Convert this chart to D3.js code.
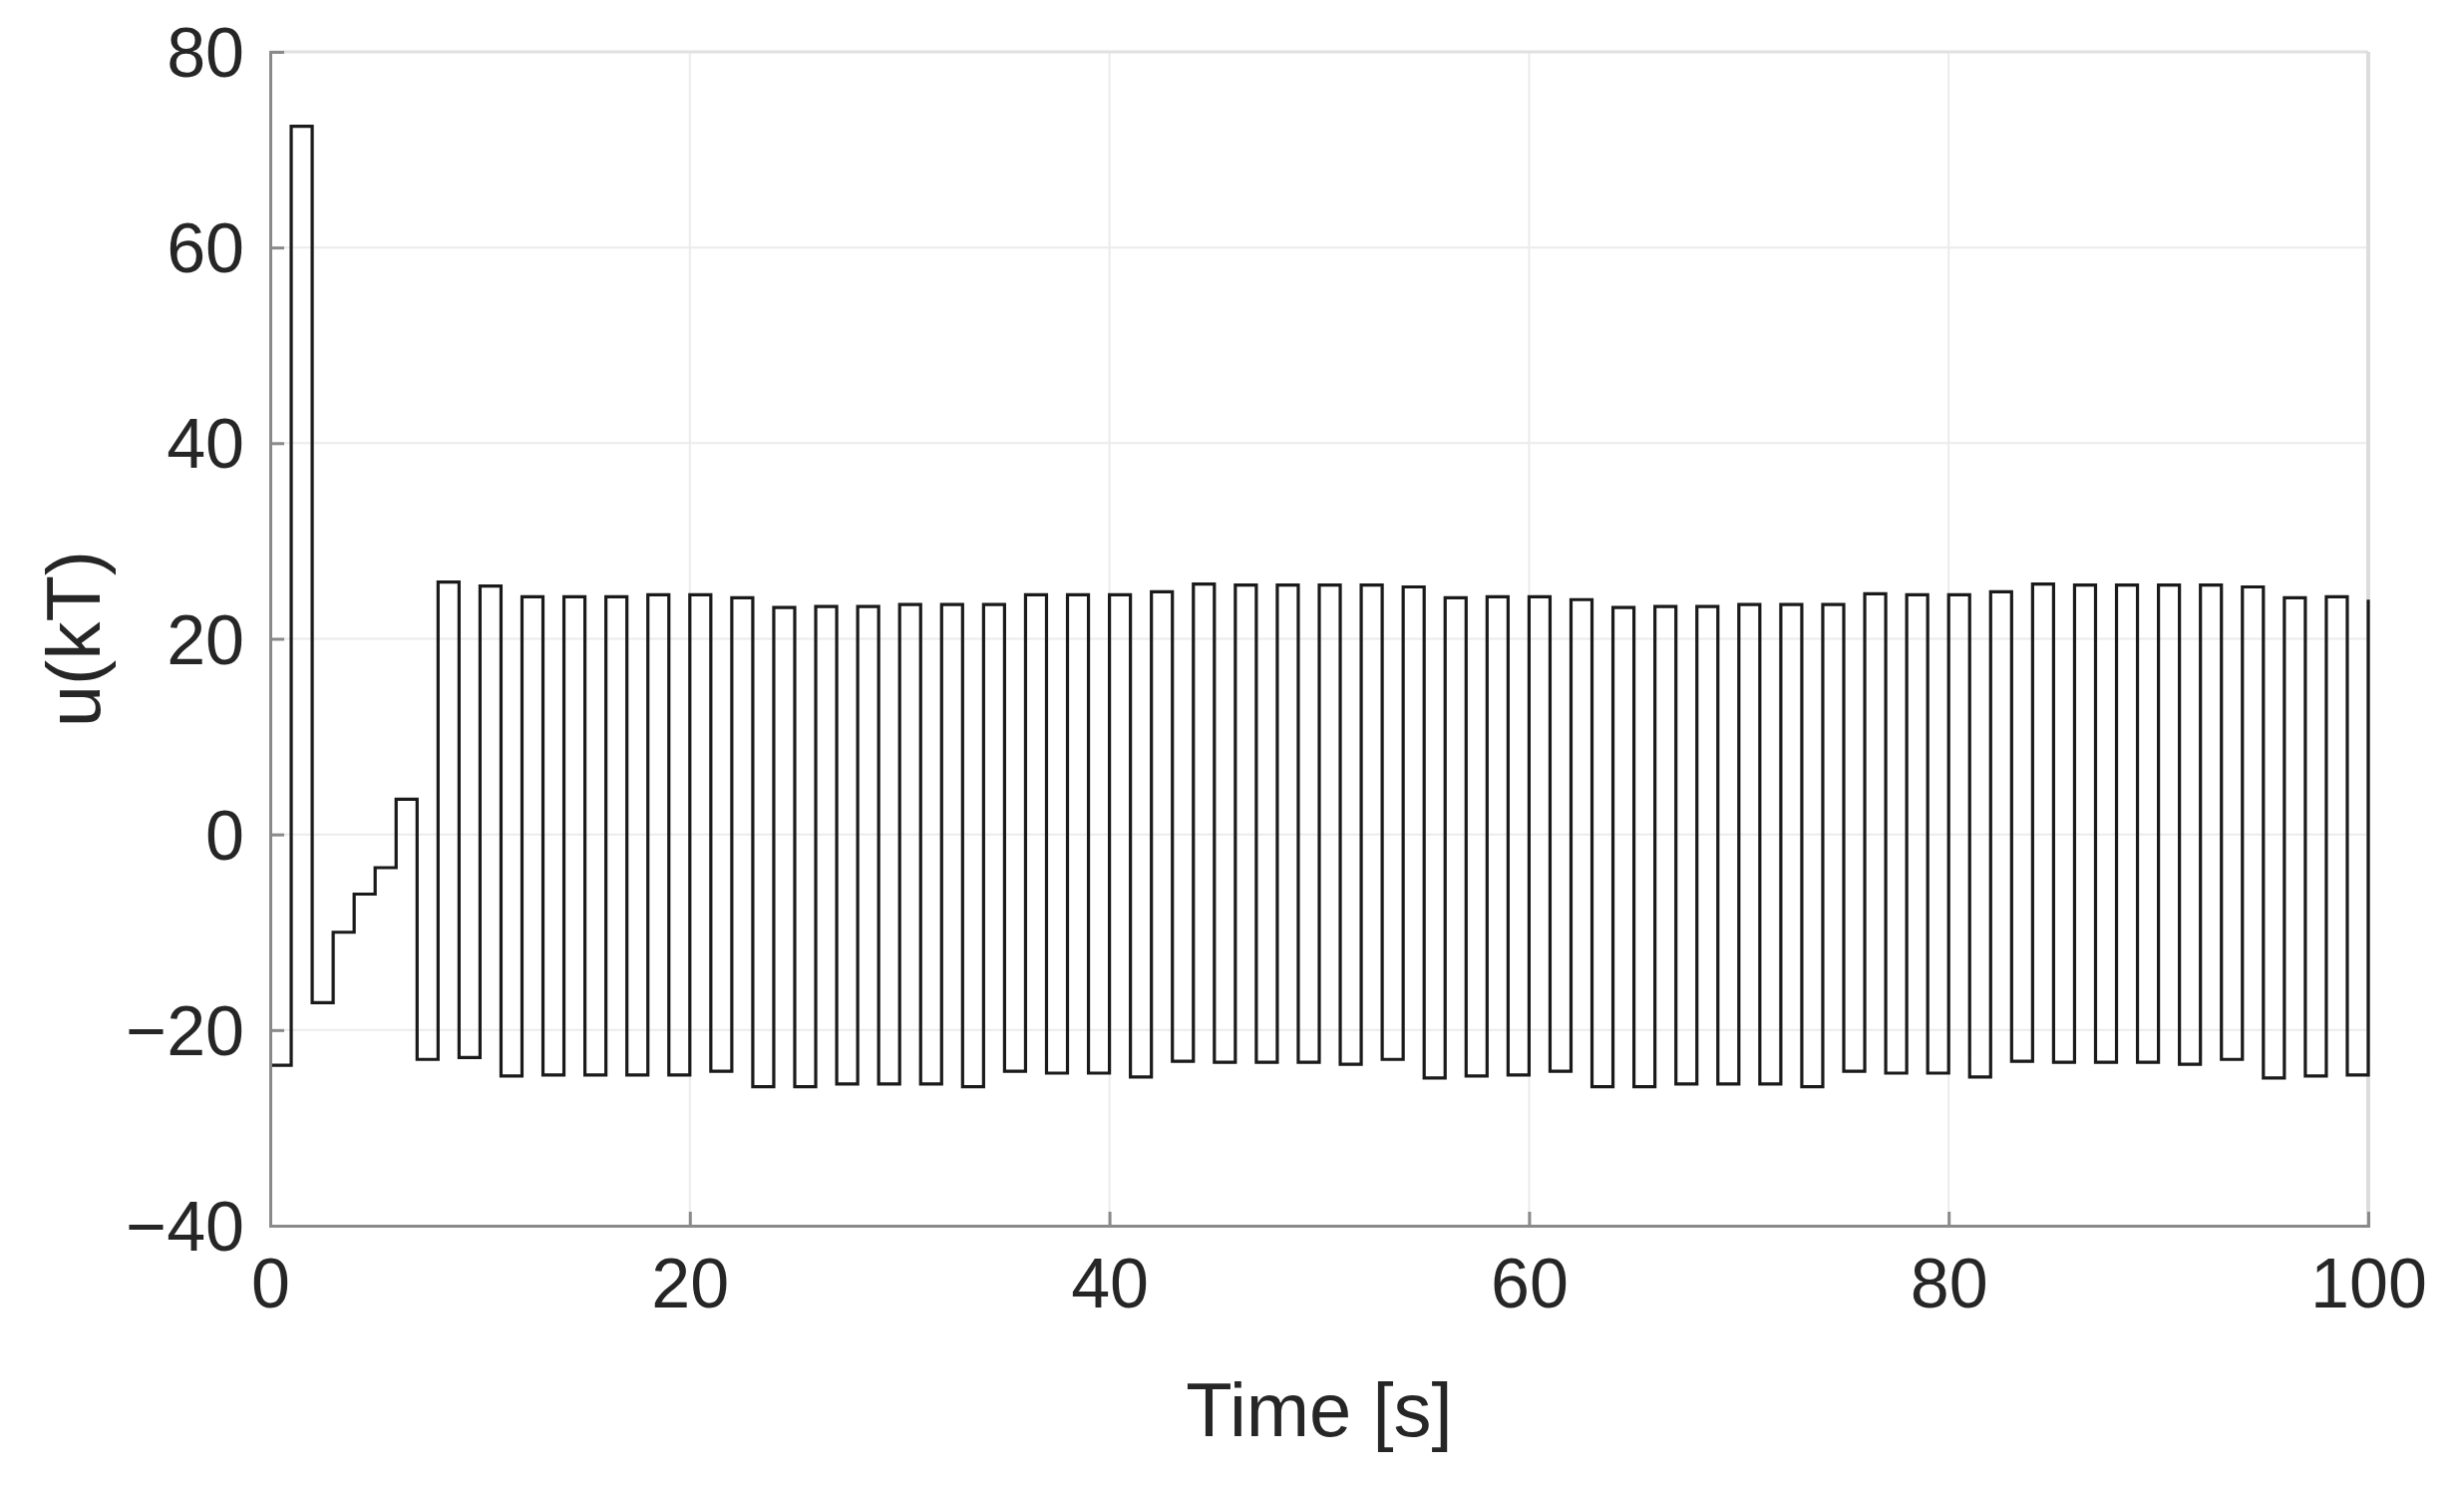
<!DOCTYPE html>
<html><head><meta charset="utf-8">
<script src="https://cdn.jsdelivr.net/npm/d3@7"></script>
<style>body{margin:0;background:#fff}</style></head>
<body><svg id="c" width="2471" height="1493"></svg>
<script>
const startTimes = [0,1,2,3,4,5,6];
const startValues = [-23.6,72.4,-17.2,-10,-6.1,-3.4,3.6];
const highValues = [25.8,25.4,24.3,24.3,24.3,24.5,24.5,24.2,23.2,23.3,23.3,23.5,23.5,23.5,24.5,24.5,24.5,24.8,25.6,25.5,25.5,25.5,25.5,25.3,24.2,24.3,24.3,24.0,23.2,23.3,23.3,23.5,23.5,23.5,24.6,24.5,24.5,24.8,25.6,25.5,25.5,25.5,25.5,25.3,24.2,24.3,24.0];
const lowValues = [-23,-22.8,-24.7,-24.6,-24.6,-24.6,-24.6,-24.2,-25.8,-25.8,-25.5,-25.5,-25.5,-25.8,-24.2,-24.4,-24.4,-24.8,-23.2,-23.3,-23.3,-23.3,-23.5,-23,-24.9,-24.7,-24.6,-24.2,-25.8,-25.8,-25.5,-25.5,-25.5,-25.8,-24.2,-24.4,-24.4,-24.8,-23.2,-23.3,-23.3,-23.3,-23.5,-23,-24.9,-24.7,-24.6];
const xTicks = [0,20,40,60,80,100];
const yTicks = [-40,-20,0,20,40,60,80];

const data = startTimes.map((t,i)=>({t, v:startValues[i]}));
lowValues.forEach((v,i)=>{
  data.push({t:7+2*i, v});
  if (i < highValues.length) data.push({t:8+2*i, v:highValues[i]});
});

const svg = d3.select('#c');
const L=271, R=2375, T=52, B=1229;
const x = d3.scaleLinear().domain([0,100]).range([L,R]);
const y = d3.scaleLinear().domain([-40,80]).range([B,T]);
const font = "'Liberation Sans', Arial, sans-serif";

const g = svg.append('g');
g.selectAll('.gx').data(xTicks).join('line').attr('x1',d=>x(d)).attr('x2',d=>x(d)).attr('y1',T).attr('y2',B).attr('stroke','#ebebeb').attr('stroke-width',2);
g.selectAll('.gy').data(yTicks).join('line').attr('y1',d=>y(d)).attr('y2',d=>y(d)).attr('x1',L).attr('x2',R).attr('stroke','#ebebeb').attr('stroke-width',2);
// box top/right
g.append('line').attr('x1',L).attr('x2',R).attr('y1',T).attr('y2',T).attr('stroke','#e0e0e0').attr('stroke-width',3);
g.append('line').attr('x1',R).attr('x2',R).attr('y1',T).attr('y2',B).attr('stroke','#dcdcdc').attr('stroke-width',4);

const line = d3.line().x(d=>x(d.t)).y(d=>y(d.v)).curve(d3.curveStepAfter);
svg.append('path').datum(data).attr('d',line).attr('fill','none').attr('stroke','#1a1a1a').attr('stroke-width',3.2);

const xa = svg.append('g').attr('transform',`translate(0,${B})`).call(d3.axisBottom(x).tickValues(xTicks).tickSize(-14).tickPadding(32));
const ya = svg.append('g').attr('transform',`translate(${L},0)`).call(d3.axisLeft(y).tickValues(yTicks).tickSize(-14).tickPadding(26));
[xa,ya].forEach(a=>{
  a.select('.domain').attr('stroke','#8a8a8a').attr('stroke-width',3);
  a.selectAll('.tick line').attr('stroke','#8a8a8a').attr('stroke-width',3);
  a.selectAll('text').attr('font-family',font).attr('font-size',70).attr('fill','#262626');
});
xa.selectAll('text').attr('dy','0.71em');
ya.selectAll('text').attr('dy','0.35em');

svg.append('text').attr('x',(L+R)/2).attr('y',1440).attr('text-anchor','middle').attr('font-family',font).attr('font-size',76).attr('fill','#262626').text('Time [s]');
svg.append('text').attr('transform',`translate(100,${(T+B)/2}) rotate(-90)`).attr('text-anchor','middle').attr('font-family',font).attr('font-size',76).attr('fill','#262626').text('u(kT)');
</script></body></html>
